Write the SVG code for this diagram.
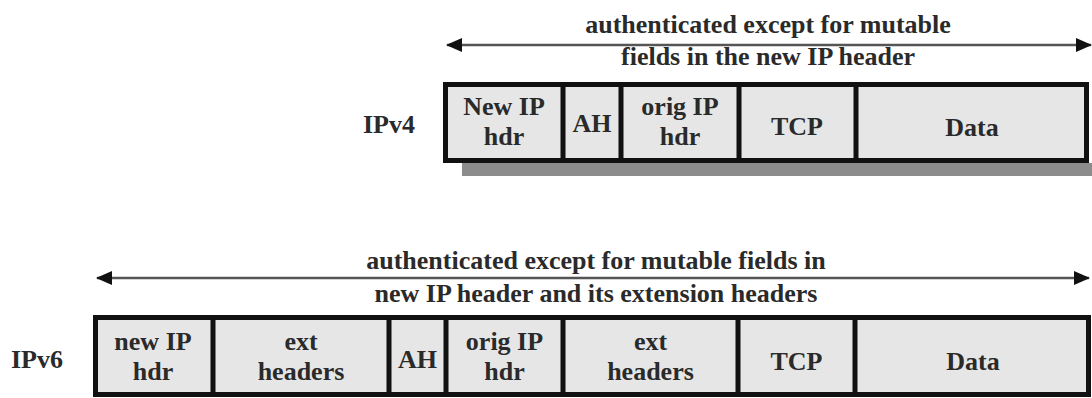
<svg xmlns="http://www.w3.org/2000/svg" width="1092" height="398" viewBox="0 0 1092 398" font-family="Liberation Serif, Times New Roman, DejaVu Serif, serif">
<defs>
<style>
text{font-family:'Liberation Serif','Times New Roman','DejaVu Serif',serif;font-weight:700;font-size:26px;fill:#2a2a2a;text-anchor:middle}
.frame{fill:#e6e6e6;stroke:#111;stroke-width:5}
.div{stroke:#111;stroke-width:5}
.arr{stroke:#555;stroke-width:2.5;fill:none}
</style>
<marker id="ah" viewBox="0 0 16 14" refX="15" refY="7" markerWidth="16" markerHeight="14" markerUnits="userSpaceOnUse" orient="auto-start-reverse">
<path d="M0,0 L16,7 L0,14 Z" fill="#111"/>
</marker>
</defs>
<g id="connectors">
<line class="arr" x1="447" y1="45" x2="1091" y2="45" marker-start="url(#ah)" marker-end="url(#ah)"/>
<line class="arr" x1="97" y1="278" x2="1089" y2="278" marker-start="url(#ah)" marker-end="url(#ah)"/>
</g>
<g id="label-top">
<text x="768" y="33">authenticated except for mutable</text>
<text x="768" y="65">fields in the new IP header</text>
</g>
<g id="label-bottom">
<text x="596" y="269">authenticated except for mutable fields in</text>
<text x="596" y="302">new IP header and its extension headers</text>
</g>
<g id="ipv4">
<text x="389" y="133">IPv4</text>
<rect x="462" y="163" width="630" height="13" fill="#8c8c8c"/>
<rect class="frame" x="445.5" y="84.5" width="641" height="76"/>
<line class="div" x1="563" y1="84" x2="563" y2="161"/>
<line class="div" x1="621" y1="84" x2="621" y2="161"/>
<line class="div" x1="739" y1="84" x2="739" y2="161"/>
<line class="div" x1="856" y1="84" x2="856" y2="161"/>
<g id="v4-newip"><text x="504" y="115">New IP</text><text x="504" y="145">hdr</text></g>
<g id="v4-ah"><text x="592" y="132">AH</text></g>
<g id="v4-origip"><text x="680" y="115">orig IP</text><text x="680" y="145">hdr</text></g>
<g id="v4-tcp"><text x="797" y="135">TCP</text></g>
<g id="v4-data"><text x="972" y="136">Data</text></g>
</g>
<g id="ipv6">
<text x="37" y="368">IPv6</text>
<rect class="frame" x="95.5" y="317.5" width="993" height="77"/>
<line class="div" x1="213" y1="317" x2="213" y2="395"/>
<line class="div" x1="389" y1="317" x2="389" y2="395"/>
<line class="div" x1="446" y1="317" x2="446" y2="395"/>
<line class="div" x1="563" y1="317" x2="563" y2="395"/>
<line class="div" x1="738" y1="317" x2="738" y2="395"/>
<line class="div" x1="855" y1="317" x2="855" y2="395"/>
<g id="v6-newip"><text x="153" y="350">new IP</text><text x="153" y="380">hdr</text></g>
<g id="v6-ext1"><text x="301" y="350">ext</text><text x="301" y="380">headers</text></g>
<g id="v6-ah"><text x="417.5" y="368">AH</text></g>
<g id="v6-origip"><text x="504.5" y="350">orig IP</text><text x="504.5" y="380">hdr</text></g>
<g id="v6-ext2"><text x="650.5" y="350">ext</text><text x="650.5" y="380">headers</text></g>
<g id="v6-tcp"><text x="796.5" y="370">TCP</text></g>
<g id="v6-data"><text x="973" y="370">Data</text></g>
</g>
</svg>
